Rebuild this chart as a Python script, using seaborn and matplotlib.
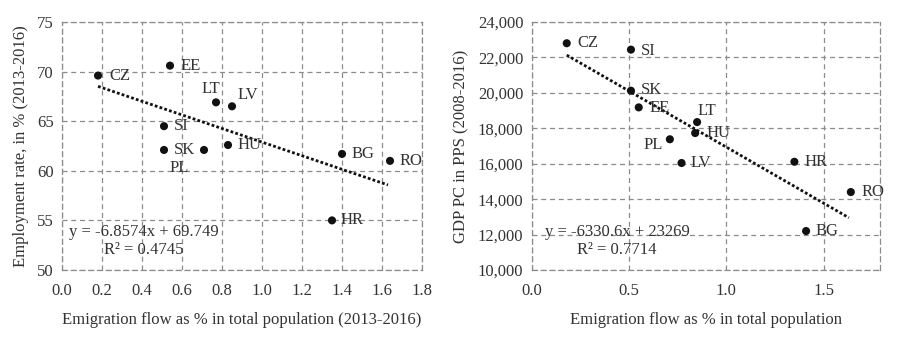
import matplotlib
matplotlib.use("Agg")
import matplotlib.pyplot as plt
import seaborn as sns
import numpy as np
import pandas as pd

# ---- data ----
countries_left = ["CZ", "EE", "LT", "LV", "SI", "SK", "PL", "HU", "BG", "RO", "HR"]
emig_left = [0.18, 0.54, 0.77, 0.85, 0.51, 0.51, 0.71, 0.83, 1.40, 1.64, 1.35]
employment = [69.6, 70.6, 66.9, 66.5, 64.5, 62.1, 62.1, 62.6, 61.7, 61.0, 55.0]

countries_right = ["CZ", "SI", "SK", "EE", "LT", "HU", "PL", "LV", "HR", "RO", "BG"]
emig_right = [0.18, 0.51, 0.51, 0.55, 0.85, 0.84, 0.71, 0.77, 1.35, 1.64, 1.41]
gdp_pc = [22800, 22440, 20120, 19180, 18350, 17730, 17380, 16040, 16110, 14400, 12200]

trend_left = (-6.8574, 69.749)
trend_right = (-6330.6, 23269)
trend_x = [0.18, 1.63]

xticks_left = [0.0, 0.2, 0.4, 0.6, 0.8, 1.0, 1.2, 1.4, 1.6, 1.8]
yticks_left = [50, 55, 60, 65, 70, 75]
xticks_right = [0.0, 0.5, 1.0, 1.5]
yticks_right = [10000, 12000, 14000, 16000, 18000, 20000, 22000, 24000]

# label offsets (pixels), style only
off_left = {"CZ": (11, 0, "left"), "EE": (11, 0, "left"), "LT": (-5, 13, "center"),
            "LV": (6, 11, "left"), "SI": (10, 0, "left"), "SK": (10, 0, "left"),
            "PL": (-25, -18, "center"), "HU": (10, 0, "left"), "BG": (10, 0, "left"),
            "RO": (10, 0, "left"), "HR": (9, 0, "left")}
off_right = {"CZ": (11, 0, "left"), "SI": (10, -1, "left"), "SK": (10, 1, "left"),
             "EE": (11, -1, "left"), "LT": (0, 11, "left"), "HU": (11, 0, "left"),
             "PL": (-7, -6, "right"), "LV": (9, 0, "left"), "HR": (10, 0, "left"),
             "RO": (11, 0, "left"), "BG": (9, 0, "left")}

sns.set_style("white")
plt.rcParams["font.family"] = ["Liberation Serif", "DejaVu Serif"]

fig = plt.figure(figsize=(9, 3.41), dpi=100)
ax1 = fig.add_axes([0.0689, 0.2082, 0.4, 0.7273])
ax2 = fig.add_axes([0.5908, 0.2082, 0.387, 0.7273])

tc = "#333333"
fs = 12
grid_kw = dict(color="#8c8c8c", linestyle=(0, (4, 3)), linewidth=0.9)


def draw(ax, names, xs, ys, offs, trend, xticks, yticks, xlim, ylim, xlabel, ylabel,
         eq, r2, eqpos, yfmt):
    df = pd.DataFrame({"x": xs, "y": ys, "c": names})
    sns.scatterplot(data=df, x="x", y="y", ax=ax, color="#111111", s=34,
                    edgecolor="none", zorder=3)
    tx = np.array(trend_x)
    ax.plot(tx, trend[0] * tx + trend[1], color="#111111", linestyle=(0, (1, 0.8)),
            linewidth=2.0, zorder=2)
    for n, x, y in zip(names, xs, ys):
        dx, dy, ha = offs[n]
        ax.annotate(n, (x, y), xytext=(dx, dy), textcoords="offset pixels",
                    ha=ha, va="center", fontsize=fs, color=tc)
    ax.set_xlim(*xlim)
    ax.set_ylim(*ylim)
    ax.set_xticks(xticks)
    ax.set_yticks(yticks)
    ax.set_xticklabels([f"{t:.1f}" for t in xticks])
    ax.set_yticklabels([yfmt(t) for t in yticks])
    ax.tick_params(axis="x", labelsize=fs, colors=tc, length=0, pad=9)
    ax.tick_params(axis="y", labelsize=fs, colors=tc, length=0, pad=6)
    ax.grid(True, **grid_kw)
    for s in ax.spines.values():
        s.set_color("#8c8c8c")
        s.set_linestyle((0, (4, 3)))
        s.set_linewidth(0.9)
    ax.set_xlabel(xlabel, fontsize=fs, color=tc, labelpad=10)
    ax.set_ylabel(ylabel, fontsize=fs, color=tc, labelpad=6)
    ax.text(eqpos, 0.154, eq, transform=ax.transAxes, ha="center", va="center",
            fontsize=fs, color=tc)
    ax.text(eqpos, 0.079, r2, transform=ax.transAxes, ha="center", va="center",
            fontsize=fs, color=tc)


draw(ax1, countries_left, emig_left, employment, off_left, trend_left,
     xticks_left, yticks_left, (0, 1.8), (50, 75),
     "Emigration flow as % in total population (2013-2016)",
     "Employment rate, in % (2013-2016)",
     "y = -6.8574x + 69.749", "R² = 0.4745", 0.228, lambda t: f"{t:d}")
draw(ax2, countries_right, emig_right, gdp_pc, off_right, trend_right,
     xticks_right, yticks_right, (0, 1.79), (10000, 24000),
     "Emigration flow as % in total population",
     "GDP PC in PPS (2008-2016)",
     "y = -6330.6x + 23269", "R² = 0.7714", 0.245, lambda t: f"{t:,}")

fig.savefig("out.png", dpi=100)
